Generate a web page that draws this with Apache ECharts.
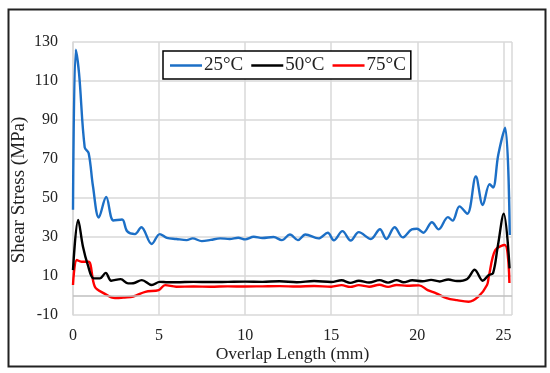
<!DOCTYPE html>
<html>
<head>
<meta charset="utf-8">
<script src="https://cdn.jsdelivr.net/npm/echarts@6/dist/echarts.min.js"></script>
<style>html,body{margin:0;padding:0;background:#fff}#c{width:550px;height:373px}</style>
</head>
<body>
<div id="c"></div>
<script>
const seriesNames = ['25°C', '50°C', '75°C'];

const x25 = [0, 0.16, 0.35, 0.68, 0.91, 1.16, 1.5, 1.93, 2.35, 2.85, 3.14, 3.6, 3.97, 4.57, 5.04, 5.45, 6.0, 6.6, 6.95, 7.48, 8.0, 8.55, 9.1, 9.6, 10.0, 10.5, 11.0, 11.65, 12.13, 12.6, 13.06, 13.5, 14.26, 14.8, 15.15, 15.65, 16.13, 16.6, 17.3, 17.83, 18.2, 18.68, 19.15, 19.68, 19.98, 20.35, 20.85, 21.24, 21.78, 22.05, 22.45, 22.9, 23.4, 23.8, 24.2, 24.4, 24.7, 25.1, 25.37];
const y25 = [44, 126, 114, 76, 73, 56, 40, 50.5, 38.5, 39, 33, 31.5, 35, 26.4, 31.5, 29.6, 29, 28.4, 29.3, 27.9, 28.5, 29.3, 29, 29.6, 28.8, 30.1, 29.5, 30, 28.4, 31.3, 28.4, 31.3, 29.3, 32.2, 28.3, 33, 28.2, 32.5, 29, 34, 29, 35, 29.8, 33.9, 34.2, 32.2, 37.6, 33.9, 40.2, 38.4, 45.7, 41.9, 61, 46.4, 57.1, 55.4, 72, 86, 31];

const x50 = [0, 0.3, 0.58, 0.85, 1.2, 1.56, 1.9, 2.22, 2.77, 3.2, 3.5, 4.0, 4.57, 5.04, 5.5, 6, 7, 8, 9, 10, 11, 12, 13, 14, 15, 15.6, 16.1, 16.6, 17.2, 17.8, 18.3, 18.8, 19.2, 19.7, 20.3, 20.8, 21.3, 21.8, 22.3, 22.9, 23.33, 23.8, 24.15, 24.4, 24.67, 25.02, 25.36];
const y50 = [13, 38.7, 25, 16, 8.8, 8.8, 11.6, 7.6, 8.4, 6.2, 6.3, 7.9, 5.4, 7, 6.8, 6.8, 7, 6.9, 7, 7.1, 7, 7.3, 6.8, 7.4, 6.9, 7.8, 6.5, 7.6, 6.7, 7.9, 6.6, 7.9, 6.8, 7.8, 7.3, 8, 7.2, 8.2, 7.4, 8.5, 13.2, 7.6, 10.5, 11.5, 25, 42, 13.9];

const x75 = [0, 0.22, 0.5, 0.9, 1.27, 1.8, 2.44, 3.0, 3.5, 4.2, 4.98, 5.35, 6, 7, 8, 9, 10, 11, 12, 13, 14, 15, 15.6, 16.1, 16.6, 17.2, 17.8, 18.3, 18.8, 19.4, 20.1, 20.6, 21.1, 21.7, 22.3, 22.98, 23.56, 24.05, 24.15, 24.53, 25.08, 25.35];
const y75 = [5.4, 18.2, 17.3, 17.3, 4.5, 1.1, -1.3, -1, -0.5, 1.9, 2.8, 5.3, 4.5, 4.6, 4.5, 4.7, 4.6, 4.7, 4.8, 4.6, 4.9, 4.5, 5.3, 4.4, 5.3, 4.5, 5.5, 4.4, 5.4, 5.0, 5.2, 2.8, 1.1, -1.3, -2.4, -3.2, -0.5, 5.4, 9.6, 23.3, 25.9, 6.4];

const xTicks = [0, 5, 10, 15, 20, 25];
const yTicks = [-10, 10, 30, 50, 70, 90, 110, 130];

const colors = ['#1c6fc6', '#000000', '#ff0000'];
const pairs = (xs, ys) => xs.map((x, i) => [x, ys[i]]);
const dataSets = [pairs(x25, y25), pairs(x50, y50), pairs(x75, y75)];

const font = 'Liberation Serif';
const chart = echarts.init(document.getElementById('c'), null, {renderer: 'canvas'});
chart.setOption({
  animation: false,
  backgroundColor: '#fff',
  textStyle: {fontFamily: font},
  graphic: [{
    type: 'rect', left: 6, top: 7, z: 100, silent: true,
    shape: {width: 537, height: 357},
    style: {fill: 'none', stroke: '#222', lineWidth: 2}
  }],
  grid: {left: 73, right: 38, top: 42, bottom: 58, containLabel: false},
  legend: {
    data: seriesNames,
    left: 163, top: 51,
    orient: 'horizontal',
    icon: 'rect',
    itemWidth: 32, itemHeight: 2.5, itemGap: 8,
    padding: [5, 5, 4, 7],
    borderColor: '#000', borderWidth: 1.5,
    backgroundColor: '#fff',
    textStyle: {fontFamily: font, fontSize: 19, color: '#222', padding: [0, 0, 0, -3]}
  },
  xAxis: {
    type: 'value', min: xTicks[0], max: 25.5, interval: 5,
    name: 'Overlap Length (mm)', nameLocation: 'middle', nameGap: 30,
    nameMoveOverlap: false,
    nameTextStyle: {fontFamily: font, fontSize: 17.5, color: '#222'},
    axisLine: {show: false}, axisTick: {show: false},
    axisLabel: {fontFamily: font, fontSize: 16, color: '#222', margin: 13,
      formatter: v => xTicks.includes(v) ? String(v) : ''},
    splitLine: {show: true, lineStyle: {color: '#d9d9d9', width: 1.5}}
  },
  yAxis: {
    type: 'value', min: yTicks[0], max: yTicks[yTicks.length - 1], interval: 20,
    name: 'Shear Stress (MPa)', nameLocation: 'middle', nameGap: 44,
    nameMoveOverlap: false,
    nameTextStyle: {fontFamily: font, fontSize: 19, color: '#222', padding: [0, 23, 0, 0]},
    axisLine: {show: true, lineStyle: {color: '#d9d9d9', width: 1.5}}, axisTick: {show: false},
    axisLabel: {fontFamily: font, fontSize: 16, color: '#222', margin: 15},
    splitLine: {show: true, lineStyle: {color: '#d9d9d9', width: 1.5}}
  },
  series: seriesNames.map((n, i) => ({
    name: n, type: 'line', data: dataSets[i], smooth: 0.35,
    symbol: 'none', color: colors[i],
    lineStyle: {color: colors[i], width: 2.4},
    z: 3 - i,
    markLine: i === 0 ? {silent: true, symbol: 'none', label: {show: false},
      lineStyle: {color: '#bfbfbf', width: 1.5, type: 'solid'}, data: [{yAxis: 0}]} : undefined
  }))
});
</script>
</body>
</html>
